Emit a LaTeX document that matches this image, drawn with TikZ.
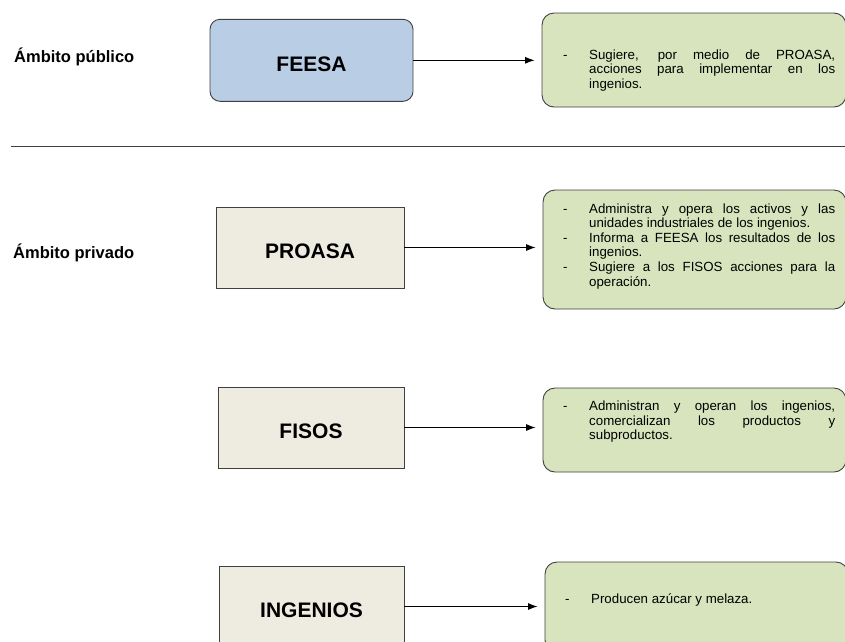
\documentclass[tikz,border=0pt]{standalone}
\usepackage{fontspec}
\setmainfont{Liberation Sans}
\usetikzlibrary{arrows.meta}
\definecolor{azulfeesa}{HTML}{B9CDE5}
\definecolor{beige}{HTML}{EEECE1}
\definecolor{verdenota}{HTML}{D7E4BD}
\definecolor{borde}{HTML}{404040}
\tolerance=10000
\hyphenpenalty=10000
\newcommand{\guion}[1]{\hangindent=26pt\hangafter=1\noindent\hbox to 26pt{-\hfil}#1\par}
\begin{document}
\begin{tikzpicture}[
    x=1pt, y=-1pt,
    caja/.style={draw=borde, line width=0.9pt, fill=beige, minimum height=81pt,
        font=\bfseries\fontsize{21}{24}\selectfont, text height=22pt, text depth=0pt},
    nota/.style={draw=borde, line width=0.9pt, fill=verdenota, rounded corners=12pt},
    notatexto/.style={anchor=base west, inner sep=0pt, text width=272pt, align=justify,
        font=\fontsize{13.3}{14.6}\selectfont},
    ambito/.style={anchor=base west, inner sep=0pt, font=\bfseries\fontsize{16.5}{18}\selectfont},
    flecha/.style={-{Latex[length=9.5pt,width=7pt]}, line width=0.9pt, shorten >=7pt}
]
\useasboundingbox (0,0) rectangle (845,641);
% Ambitos
\node[ambito] (publico) at (14,62) {Ámbito público};
\node[ambito] (privado) at (13,258) {Ámbito privado};
\draw[borde, line width=0.9pt] (11,146.5) -- (845,146.5);

% Entidades
\node[caja, fill=azulfeesa, rounded corners=10pt, minimum width=203pt, minimum height=82pt] (feesa) at (311.5,60.3) {FEESA};
\node[caja, minimum width=188pt] (proasa) at (310,247.5) {PROASA};
\node[caja, minimum width=186pt] (fisos) at (311,427.5) {FISOS};
\node[caja, minimum width=185pt] (ingenios) at (311.5,606.5) {INGENIOS};

% Notas
\node[nota, minimum width=304pt, minimum height=94pt] (n1) at (694,60) {};
\node[nota, minimum width=303pt, minimum height=119pt] (n2) at (694.5,249.5) {};
\node[nota, minimum width=303pt, minimum height=84pt] (n3) at (694.5,430) {};
\node[nota, minimum width=303pt, minimum height=90pt] (n4) at (696.5,607) {};

\node[notatexto] (t1) at (563,59) {\guion{Sugiere, por medio de PROASA,\linebreak acciones para implementar en los\linebreak ingenios.}};
\node[notatexto] (t2) at (563,213) {\guion{Administra y opera los activos y las\linebreak unidades industriales de los ingenios.}
    \guion{Informa a FEESA los resultados de los\linebreak ingenios.}
    \guion{Sugiere a los FISOS acciones para la\linebreak operación.}};
\node[notatexto] (t3) at (563,410.5) {\guion{Administran y operan los ingenios,\linebreak comercializan los productos y\linebreak subproductos.}};
\node[notatexto] (t4) at (565,603) {\guion{Producen azúcar y melaza.}};

% Flechas
\draw[flecha] (feesa) -- (feesa -| n1.west);
\draw[flecha] (proasa) -- (proasa -| n2.west);
\draw[flecha] (fisos) -- (fisos -| n3.west);
\draw[flecha] (ingenios) -- (ingenios -| n4.west);
\end{tikzpicture}
\end{document}
